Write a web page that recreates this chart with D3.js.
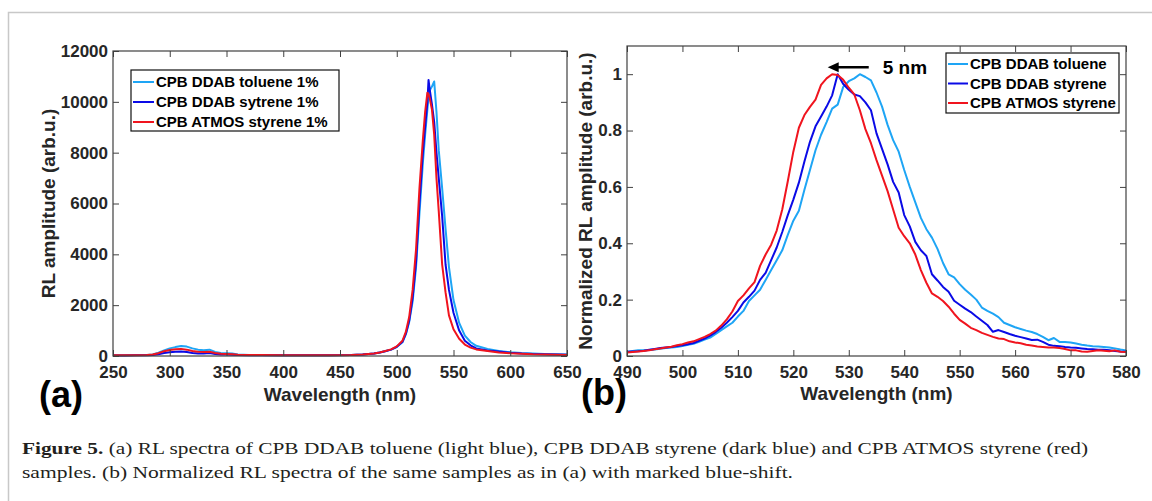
<!DOCTYPE html>
<html>
<head>
<meta charset="utf-8">
<script src="https://cdn.jsdelivr.net/npm/d3@7"></script>
<style>
  body { margin: 0; background: #fff; }
  svg text { font-family: "Liberation Sans", Arial, sans-serif; font-weight: bold; fill: #262626; }
  .tick text { font-size: 17px; }
  .tick line { stroke: #404040; }
  .caption text, text.caption { font-family: "Liberation Serif", "Times New Roman", serif; font-weight: normal; fill: #231f20; }
</style>
</head>
<body>
<div id="chart"></div>
<script>
// ---- data: panel (a), raw RL spectra ----
var leftWl = [250,260,270,280,285,290,295,300,305,310,315,320,325,330,335,340,345,350,355,360,
  370,380,400,420,440,460,470,480,485,490,495,500,505,508,511,514,517,520,523,525,
  527,528,529,531,533,535,537,540,543,546,550,555,560,565,570,580,590,600,610,620,
  630,640,650];
var leftToluene = [30,30,35,40,60,130,220,300,350,390,370,300,250,230,250,160,120,110,100,60,
  40,35,30,30,30,40,60,100,140,200,250,350,540,850,1350,2150,3500,5600,7600,8700,
  9700,10200,10450,10600,10800,9600,8100,6600,5000,3500,2200,1300,800,550,400,280,200,150,120,100,
  80,70,60];
var leftDdabSty = [20,20,25,30,40,70,120,150,170,180,160,120,100,100,120,80,60,60,50,40,
  30,30,25,25,30,40,60,100,140,190,250,360,560,880,1400,2300,3700,6000,8000,9000,
  10000,10860,10500,9900,9200,8000,7000,5500,3600,2600,1700,1000,600,420,300,220,180,130,100,80,
  70,60,50];
var leftAtmosSty = [30,30,30,40,60,110,190,240,270,280,250,200,170,160,170,120,90,80,70,50,
  40,35,30,30,30,40,60,100,140,200,260,380,600,950,1550,2600,4200,6600,8500,9600,
  10360,10300,10150,9700,8700,7000,5700,3600,2500,1600,1050,680,450,330,260,200,140,110,90,70,
  60,50,40];
var leftLabels = ["CPB DDAB toluene 1%", "CPB DDAB sytrene 1%", "CPB ATMOS styrene 1%"];
var leftXTicks = [250,300,350,400,450,500,550,600,650];
var leftYTicks = [0,2000,4000,6000,8000,10000,12000];

// ---- data: panel (b), normalized spectra ----
var rightWl = [490,491,492,493,494,495,496,497,498,499,500,501,502,503,504,505,506,507,508,509,
  510,511,512,513,514,515,516,517,518,519,520,521,522,523,524,525,526,527,528,529,
  530,531,532,533,534,535,536,537,538,539,540,541,542,543,544,545,546,547,548,549,
  550,551,552,553,554,555,556,557,558,559,560,561,562,563,564,565,566,567,568,569,
  570,571,572,573,574,575,576,577,578,579,580];
var normToluene = [0.014,0.018,0.02,0.02,0.021,0.023,0.026,0.028,0.03,0.032,
  0.035,0.04,0.043,0.05,0.058,0.065,0.078,0.092,0.105,0.118,
  0.14,0.16,0.195,0.215,0.235,0.27,0.305,0.34,0.375,0.43,
  0.48,0.515,0.59,0.66,0.73,0.785,0.83,0.878,0.892,0.955,
  0.975,0.985,1.0,0.99,0.978,0.935,0.885,0.82,0.766,0.725,
  0.66,0.6,0.545,0.49,0.45,0.42,0.38,0.33,0.29,0.279,
  0.255,0.235,0.218,0.2,0.172,0.16,0.15,0.138,0.118,0.11,
  0.102,0.096,0.09,0.085,0.078,0.068,0.056,0.064,0.05,0.05,
  0.048,0.044,0.04,0.037,0.035,0.034,0.032,0.03,0.027,0.023,0.02];
var normDdabSty = [0.015,0.016,0.017,0.019,0.022,0.025,0.028,0.03,0.032,0.035,
  0.038,0.042,0.046,0.054,0.062,0.072,0.085,0.1,0.118,0.138,
  0.16,0.19,0.21,0.232,0.27,0.295,0.34,0.385,0.44,0.5,
  0.555,0.615,0.69,0.76,0.815,0.85,0.885,0.925,1.0,0.965,
  0.945,0.928,0.922,0.9,0.872,0.79,0.735,0.68,0.618,0.58,
  0.5,0.46,0.405,0.375,0.355,0.29,0.268,0.245,0.228,0.196,
  0.182,0.168,0.156,0.14,0.125,0.11,0.086,0.092,0.085,0.078,
  0.072,0.067,0.062,0.057,0.058,0.05,0.04,0.036,0.035,0.032,
  0.03,0.029,0.027,0.025,0.024,0.022,0.022,0.02,0.018,0.016,0.015];
var normAtmosSty = [0.012,0.014,0.016,0.018,0.02,0.024,0.027,0.03,0.033,0.038,
  0.042,0.048,0.052,0.06,0.068,0.078,0.09,0.108,0.13,0.158,
  0.195,0.215,0.24,0.262,0.32,0.36,0.395,0.445,0.52,0.62,
  0.725,0.81,0.855,0.884,0.91,0.962,0.985,1.0,0.997,0.98,
  0.952,0.928,0.872,0.805,0.755,0.695,0.64,0.585,0.52,0.455,
  0.425,0.4,0.36,0.305,0.26,0.222,0.21,0.195,0.175,0.15,
  0.128,0.115,0.1,0.092,0.082,0.075,0.068,0.062,0.06,0.052,
  0.048,0.045,0.04,0.037,0.034,0.032,0.03,0.03,0.028,0.025,
  0.02,0.02,0.016,0.015,0.018,0.02,0.019,0.017,0.02,0.015,0.014];
var rightLabels = ["CPB DDAB toluene", "CPB DDAB styrene", "CPB ATMOS styrene"];
var rightXTicks = [490,500,510,520,530,540,550,560,570,580];
var rightYTicks = [0,0.2,0.4,0.6,0.8,1];
// blue-shift annotation (nm, normalized level)
var shiftFrom = 533.6, shiftTo = 526.2, shiftLevel = 1.025, shiftText = "5 nm";

var colors = ["#1ea5f5", "#0a0ae6", "#f0141e"];

var width = 1152, height = 501;
var svg = d3.select("#chart").append("svg")
  .attr("width", width).attr("height", height);

// outer frame of the figure
svg.append("rect").attr("x", 8.5).attr("y", 12.5).attr("width", 1200).attr("height", 600)
  .attr("fill", "none").attr("stroke", "#c8c8c8").attr("stroke-width", 1.5);

function drawPanel(opt) {
  var g = svg.append("g");
  var x = d3.scaleLinear().domain(opt.xDomain).range([opt.x0, opt.x1]);
  var y = d3.scaleLinear().domain(opt.yDomain).range([opt.y1, opt.y0]);

  // lines first (MATLAB order: toluene, DDAB styrene, ATMOS styrene)
  var line = d3.line().x(function (d) { return x(d[0]); }).y(function (d) { return y(d[1]); });
  opt.series.forEach(function (s, i) {
    var pts = opt.wl.map(function (w, j) { return [w, s[j]]; });
    g.append("path").datum(pts).attr("d", line)
      .attr("fill", "none").attr("stroke", colors[i]).attr("stroke-width", 2)
      .attr("stroke-linejoin", "round");
  });

  var bottom = g.append("g").attr("transform", "translate(0," + opt.y1 + ")")
    .call(d3.axisBottom(x).tickValues(opt.xTicks).tickSize(-6).tickPadding(10).tickFormat(d3.format("d")));
  var top = g.append("g").attr("transform", "translate(0," + opt.y0 + ")")
    .call(d3.axisTop(x).tickValues(opt.xTicks).tickSize(-6).tickFormat(""));
  var left = g.append("g").attr("transform", "translate(" + opt.x0 + ",0)")
    .call(d3.axisLeft(y).tickValues(opt.yTicks).tickSize(-6).tickPadding(5).tickFormat(d3.format("~g")));
  var right = g.append("g").attr("transform", "translate(" + opt.x1 + ",0)")
    .call(d3.axisRight(y).tickValues(opt.yTicks).tickSize(-6).tickFormat(""));
  [bottom, top, left, right].forEach(function (a) {
    a.select(".domain").remove();
    a.attr("font-family", null).attr("font-size", null);
  });

  g.append("rect").attr("x", opt.x0).attr("y", opt.y0)
    .attr("width", opt.x1 - opt.x0).attr("height", opt.y1 - opt.y0)
    .attr("fill", "none").attr("stroke", "#404040").attr("stroke-width", 1.2);

  // axis titles
  g.append("text").attr("x", (opt.x0 + opt.x1) / 2).attr("y", opt.xTitleY)
    .attr("text-anchor", "middle").style("font-size", "19px").text("Wavelength (nm)");
  g.append("text")
    .attr("transform", "translate(" + opt.yTitleX + "," + ((opt.y0 + opt.y1) / 2) + ") rotate(-90)")
    .attr("text-anchor", "middle").style("font-size", "19px").text(opt.yTitle);

  // panel letter
  g.append("text").attr("x", opt.letterX).attr("y", opt.letterY)
    .style("font-size", "36px").style("fill", "#000").text(opt.letter);

  // legend
  var lg = g.append("g");
  lg.append("rect").attr("x", opt.leg.x).attr("y", opt.leg.y)
    .attr("width", opt.leg.w).attr("height", opt.leg.h)
    .attr("fill", "#fff").attr("stroke", "#111").attr("stroke-width", 1.2);
  opt.labels.forEach(function (lab, i) {
    var cy = opt.leg.y + opt.leg.first + i * opt.leg.step;
    lg.append("line").attr("x1", opt.leg.x + 2).attr("x2", opt.leg.x + 2 + opt.leg.line)
      .attr("y1", cy).attr("y2", cy).attr("stroke", colors[i]).attr("stroke-width", 2);
    lg.append("text").attr("x", opt.leg.x + 4 + opt.leg.line).attr("y", cy)
      .attr("dy", "0.36em").style("font-size", "15px").style("fill", "#000").text(lab);
  });
  return { x: x, y: y, g: g };
}

drawPanel({
  wl: leftWl, series: [leftToluene, leftDdabSty, leftAtmosSty],
  xDomain: [250, 650], yDomain: [0, 12000],
  x0: 113, x1: 567, y0: 51, y1: 356,
  xTicks: leftXTicks, yTicks: leftYTicks,
  xTitleY: 401, yTitleX: 55, yTitle: "RL amplitude (arb.u.)",
  letter: "(a)", letterX: 39, letterY: 407,
  labels: leftLabels,
  leg: { x: 131, y: 70, w: 208, h: 61, first: 12, step: 20, line: 21 }
});

// right panel sits on its own white sheet (it clips the tail of the "650" label)
svg.append("rect").attr("x", 578).attr("y", 14).attr("width", 572).attr("height", 350).attr("fill", "#fff");

var rp = drawPanel({
  wl: rightWl, series: [normToluene, normDdabSty, normAtmosSty],
  xDomain: [490, 580], yDomain: [0, 1.1],
  x0: 627, x1: 1126, y0: 46, y1: 356,
  xTicks: rightXTicks, yTicks: rightYTicks,
  xTitleY: 400, yTitleX: 592, yTitle: "Normalized RL amplitude (arb.u.)",
  letter: "(b)", letterX: 581, letterY: 405,
  labels: rightLabels,
  leg: { x: 946, y: 53, w: 173, h: 60, first: 11, step: 19.5, line: 20 }
});

// blue-shift arrow
var ax1 = rp.x(shiftFrom), ax2 = rp.x(shiftTo), ay = rp.y(shiftLevel);
rp.g.append("line").attr("x1", ax1).attr("x2", ax2 + 8).attr("y1", ay).attr("y2", ay)
  .attr("stroke", "#000").attr("stroke-width", 2.5);
rp.g.append("path")
  .attr("d", "M" + ax2 + "," + ay + "L" + (ax2 + 11) + "," + (ay - 5) + "L" + (ax2 + 11) + "," + (ay + 5) + "Z")
  .attr("fill", "#000");
rp.g.append("text").attr("x", ax1 + 14).attr("y", ay).attr("dy", "0.36em")
  .style("font-size", "19px").style("fill", "#000").text(shiftText);

// caption
var cap = svg.append("g").attr("class", "caption");
var l1 = cap.append("text").attr("x", 22).attr("y", 454).style("font-size", "17px");
l1.append("tspan").style("font-weight", "bold").text("Figure 5.");
l1.append("tspan").text(" (a) RL spectra of CPB DDAB toluene (light blue), CPB DDAB styrene (dark blue) and CPB ATMOS styrene (red)");
var l2 = cap.append("text").attr("x", 22).attr("y", 478).style("font-size", "17px")
  .text("samples. (b) Normalized RL spectra of the same samples as in (a) with marked blue-shift.");
l1.attr("textLength", 1066).attr("lengthAdjust", "spacingAndGlyphs");
l2.attr("textLength", 771).attr("lengthAdjust", "spacingAndGlyphs");
</script>
</body>
</html>
